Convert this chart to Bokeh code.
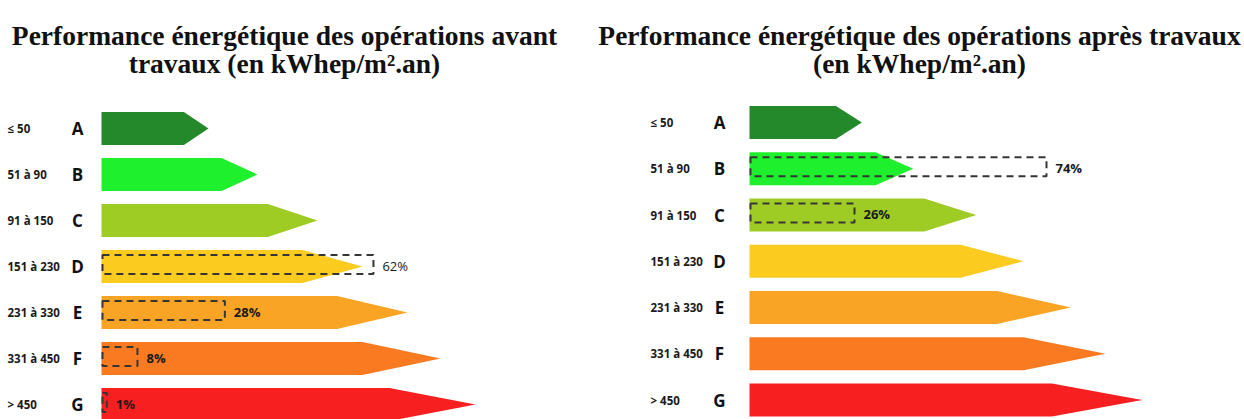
from bokeh.plotting import figure
from bokeh.models import Range1d, ColumnDataSource
from bokeh.core.properties import value
from bokeh.embed import file_html
from bokeh.resources import INLINE

# ---------------- data ----------------
classes = ["A", "B", "C", "D", "E", "F", "G"]
range_labels = ["≤ 50", "51 à 90", "91 à 150", "151 à 230", "231 à 330", "331 à 450", "> 450"]
pct_before = [0, 0, 0, 62, 28, 8, 1]
pct_after = [0, 74, 26, 0, 0, 0, 0]
title_before = ["Performance énergétique des opérations avant", "travaux (en kWhep/m².an)"]
title_after = ["Performance énergétique des opérations après travaux", "(en kWhep/m².an)"]

# ---------------- style ----------------
colors = ["#23892b", "#1ff02e", "#9fcb25", "#fccb1f", "#f9a425", "#f97a21", "#f71f20"]
arrow_rel = [107, 156, 216, 261, 306, 339, 374]   # DPE label arrow lengths (visual scale)
W, H = 1244, 419

panels = [
    dict(x0=101, row0=128, step=46, scale=1.0, k=4.37, lab_x=7, let_x=77,
         pct=pct_before, title=title_before, tcx=284, bold=["bold"] * 3 + ["normal", "bold", "bold", "bold"]),
    dict(x0=749, row0=122, step=46.25, scale=1.05, k=4.0, lab_x=650, let_x=719,
         pct=pct_after, title=title_after, tcx=919, bold=["bold"] * 7),
]

p = figure(width=W, height=H, x_range=Range1d(0, W), y_range=Range1d(H, 0),
           output_backend="svg", toolbar_location=None, min_border=0,
           x_axis_location=None, y_axis_location=None)
p.grid.visible = False
p.outline_line_color = None
p.background_fill_color = "white"

half = 16.5
for pn in panels:
    xs, ys, cy = [], [], []
    for i, c in enumerate(classes):
        L = arrow_rel[i] * pn["scale"]
        tip = 0.23 * L
        yc = pn["row0"] + pn["step"] * i
        x0 = pn["x0"]
        xs.append([x0, x0 + L - tip, x0 + L, x0 + L - tip, x0])
        ys.append([yc - half, yc - half, yc, yc + half, yc + half])
        cy.append(yc)
    p.patches(xs, ys, fill_color=colors, line_color=None)

    # range labels and class letters
    src = ColumnDataSource(dict(
        lx=[pn["lab_x"]] * 7, tx=[pn["let_x"]] * 7, y=cy,
        rl=range_labels, cl=classes))
    p.text(x="lx", y="y", text="rl", source=src, text_font=value("Open Sans"),
           text_font_size="11.5px", text_color="#1a1a1a", text_baseline="middle",
           text_align="left", text_font_style="bold")
    p.text(x="tx", y="y", text="cl", source=src, text_font=value("Open Sans"),
           text_font_size="17px", text_color="#111111", text_baseline="middle",
           text_align="center", text_font_style="bold")

    # percentage boxes
    bx, by, bw, tx, ty, tt, fs = [], [], [], [], [], [], []
    for i, v in enumerate(pn["pct"]):
        if v <= 0:
            continue
        w = v * pn["k"]
        yc = cy[i] - 2
        bx.append(pn["x0"] + 1 + w / 2)
        by.append(yc)
        bw.append(w)
        tx.append(pn["x0"] + 1 + w + 9)
        ty.append(yc + 1)
        tt.append(f"{v}%")
        fs.append(pn["bold"][i])
    bsrc = ColumnDataSource(dict(x=bx, y=by, w=bw, tx=tx, ty=ty, t=tt, fs=fs))
    p.rect(x="x", y="y", width="w", height=19, source=bsrc, fill_color=None,
           line_color="#363636", line_width=2, line_dash="7 5")
    p.text(x="tx", y="ty", text="t", source=bsrc, text_font=value("Open Sans"),
           text_font_size="13px", text_color="#1a1a1a", text_baseline="middle",
           text_align="left", text_font_style="fs")

    # title
    p.text(x=[pn["tcx"], pn["tcx"]], y=[35, 63], text=pn["title"],
           text_font=value("Liberation Serif"), text_font_size="27.5px",
           text_font_style="bold", text_color="#111111", text_align="center",
           text_baseline="alphabetic")

open("out.html", "w").write(file_html(p, INLINE))
